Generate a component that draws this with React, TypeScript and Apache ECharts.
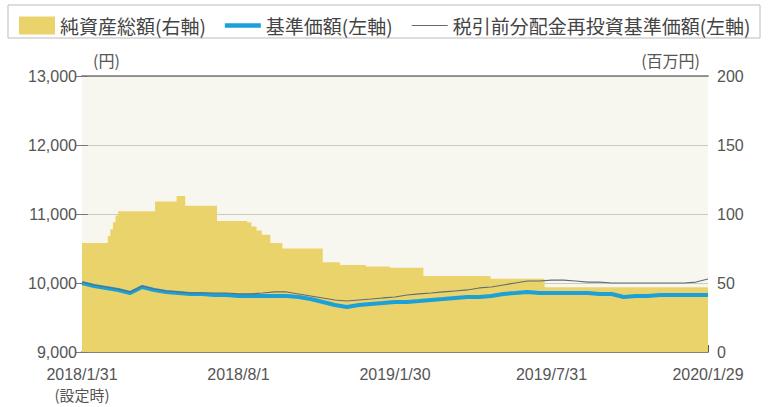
import React, { useEffect, useRef } from "react";
import * as echarts from "echarts";

// x positions are day offsets from 2018/1/31
const tickDays = [0, 182, 364, 546, 728];
const tickLabels = ["2018/1/31", "2018/8/1", "2019/1/30", "2019/7/31", "2020/1/29"];
const firstTickNote = "(設定時)";

// bi-weekly sample dates (days since launch)
const lineDays = Array.from({ length: 53 }, (_, i) => i * 14);

// 基準価額 (円)
const navValues = [
  10000, 9957, 9928, 9899, 9855, 9942, 9899, 9870, 9855, 9841, 9841, 9826, 9826, 9812,
  9812, 9812, 9812, 9812, 9797, 9768, 9725, 9681, 9652, 9681, 9696, 9710, 9725, 9725,
  9739, 9754, 9768, 9783, 9797, 9797, 9812, 9841, 9855, 9870, 9855, 9855, 9855, 9855,
  9855, 9841, 9841, 9797, 9812, 9812, 9826, 9826, 9826, 9826, 9826,
];

// 税引前分配金再投資基準価額 (円)
const reinvValues = [
  10014, 9971, 9942, 9913, 9870, 9957, 9913, 9884, 9870, 9855, 9855, 9855, 9855, 9841,
  9841, 9855, 9870, 9870, 9841, 9812, 9783, 9754, 9739, 9754, 9768, 9783, 9797, 9826,
  9841, 9855, 9870, 9884, 9899, 9928, 9942, 9971, 10000, 10029, 10029, 10043, 10043, 10029,
  10014, 10014, 10000, 10000, 10000, 10000, 10000, 10000, 10000, 10014, 10058,
];

// 純資産総額 (百万円): change dates and values
const assetDays = [0, 27, 30, 33, 36, 39, 42, 85, 110, 120, 157, 192, 197, 203, 209, 219, 233, 280, 300, 330, 358, 397, 475, 538, 728];
const assetValues = [79, 79, 84, 89, 94, 99, 102, 109, 113, 106, 95, 94, 91, 88, 85, 79, 75, 65, 63, 62, 61, 55, 53, 47, 47];

const FONT = "'Noto Sans CJK JP', 'Noto Sans', sans-serif";
const NUM_FONT = "'Liberation Sans', Arial, sans-serif";

export default function App() {
  const ref = useRef<HTMLDivElement>(null);
  useEffect(() => {
    document.body.style.margin = "0";
    if (!ref.current) return;
    const chart = echarts.init(ref.current, undefined, { renderer: "svg" });
    const labelMap: Record<number, string> = {};
    tickDays.forEach((d, i) => (labelMap[d] = tickLabels[i]));
    chart.setOption({
      animation: false,
      textStyle: { fontFamily: FONT },
      grid: {
        left: 82,
        right: 63,
        top: 76,
        bottom: 55,
        show: true,
        backgroundColor: "#f8f7ef",
        borderWidth: 0,
      },
      legend: {
        left: 14,
        top: 11,
        itemWidth: 36,
        itemHeight: 18,
        itemGap: 19,
        textStyle: { fontSize: 19, color: "#444", fontFamily: FONT },
        data: [
          { name: "純資産総額(右軸)", icon: "rect" },
          { name: "基準価額(左軸)", icon: "path://M0,0h36v4.5h-36z" },
          { name: "税引前分配金再投資基準価額(左軸)", icon: "path://M0,0h36v1.2h-36z" },
        ],
      },
      graphic: [
        {
          type: "rect",
          shape: { x: 8, y: 5, width: 752, height: 33 },
          style: { fill: "none", stroke: "#bbbbbb", lineWidth: 1 },
        },
        {
          type: "text",
          x: 93,
          y: 52,
          style: { text: "(円)", fontSize: 16, fill: "#555", fontFamily: FONT },
        },
        {
          type: "text",
          x: 700,
          y: 52,
          style: { text: "(百万円)", fontSize: 16, fill: "#555", fontFamily: FONT, align: "right" },
        },
      ],
      xAxis: [
        {
          type: "value",
          min: 0,
          max: 728,
          interval: 182,
          axisLine: { show: true, lineStyle: { color: "#8c8a70", width: 2 } },
          axisTick: { show: true, inside: true, length: 7, lineStyle: { color: "#555" } },
          splitLine: { show: false },
          axisLabel: {
            fontSize: 16,
            color: "#555",
            margin: 12,
            lineHeight: 20,
            fontFamily: NUM_FONT,
            formatter: (v: number) => {
              const t = labelMap[v];
              if (t === undefined) return "";
              return v === 0 ? `{a|${t}}\n{b|${firstTickNote}}` : `{a|${t}}`;
            },
            rich: {
              a: { fontSize: 16, color: "#555", fontFamily: NUM_FONT, lineHeight: 20 },
              b: { fontSize: 15, color: "#555", fontFamily: FONT, lineHeight: 20 },
            },
          },
        },
        {
          type: "value",
          position: "top",
          min: 0,
          max: 728,
          axisLine: { show: true, lineStyle: { color: "#999", width: 2 } },
          axisTick: { show: false },
          axisLabel: { show: false },
          splitLine: { show: false },
        },
      ],
      yAxis: [
        {
          type: "value",
          min: 9000,
          max: 13000,
          interval: 1000,
          position: "left",
          z: 3,
          axisLine: { show: false },
          axisTick: { show: true, inside: true, length: 6, lineStyle: { color: "#777" } },
          splitLine: { show: true, lineStyle: { color: "rgba(120,120,120,0.35)", width: 1 } },
          axisLabel: {
            fontSize: 16,
            color: "#555",
            margin: 5,
            lineHeight: 16,
            fontFamily: NUM_FONT,
            formatter: (v: number) => v.toLocaleString("en-US"),
          },
        },
        {
          type: "value",
          min: 0,
          max: 200,
          interval: 50,
          position: "right",
          axisLine: { show: false },
          axisTick: { show: true, inside: true, length: 6, lineStyle: { color: "#777" } },
          splitLine: { show: false },
          axisLabel: { fontSize: 16, color: "#555", margin: 9, lineHeight: 16, fontFamily: NUM_FONT },
        },
      ],
      series: [
        {
          name: "純資産総額(右軸)",
          type: "line",
          yAxisIndex: 1,
          step: "end",
          symbol: "none",
          lineStyle: { width: 0 },
          itemStyle: { color: "#ebd36c" },
          areaStyle: { color: "#ebd36c", opacity: 1 },
          data: assetDays.map((d, i) => [d, assetValues[i]]),
        },
        {
          name: "基準価額(左軸)",
          type: "line",
          yAxisIndex: 0,
          symbol: "none",
          itemStyle: { color: "#1ba0d8" },
          lineStyle: { color: "#1ba0d8", width: 4 },
          data: lineDays.map((d, i) => [d, navValues[i]]),
        },
        {
          name: "税引前分配金再投資基準価額(左軸)",
          type: "line",
          yAxisIndex: 0,
          symbol: "none",
          itemStyle: { color: "#5f6c78" },
          lineStyle: { color: "#5f6c78", width: 1.2 },
          data: lineDays.map((d, i) => [d, reinvValues[i]]),
        },
      ],
    });
    return () => chart.dispose();
  }, []);
  return <div ref={ref} style={{ width: 771, height: 407 }} />;
}
